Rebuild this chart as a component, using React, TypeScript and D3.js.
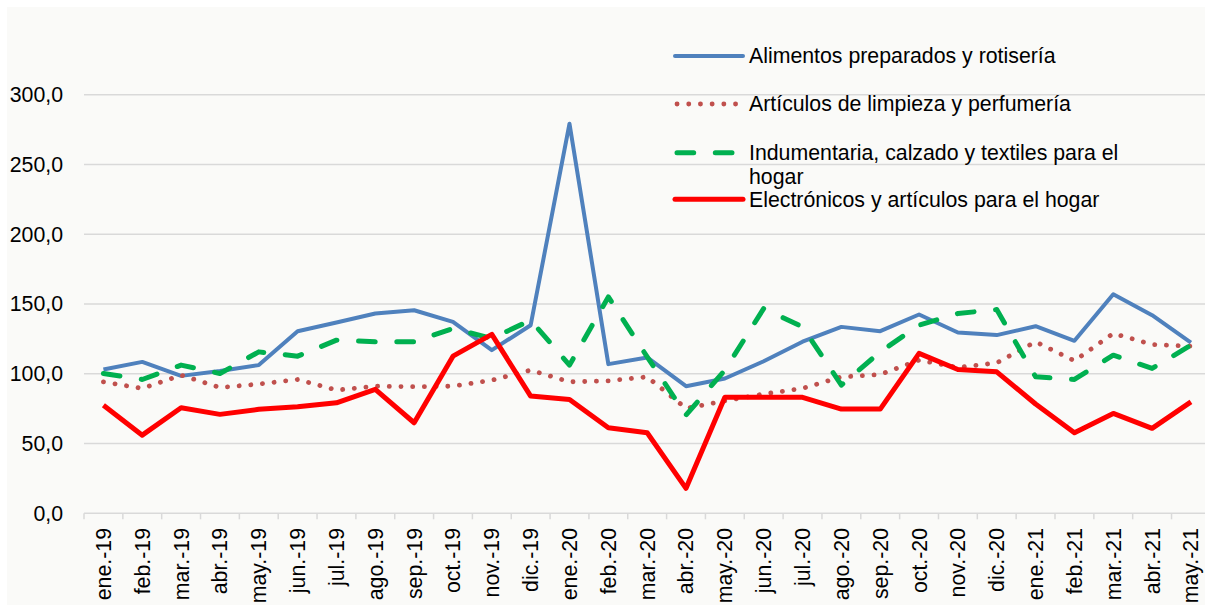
import React from "react";
import * as d3 from "d3";

const categories = ["ene.-19","feb.-19","mar.-19","abr.-19","may.-19","jun.-19","jul.-19","ago.-19","sep.-19","oct.-19","nov.-19","dic.-19","ene.-20","feb.-20","mar.-20","abr.-20","may.-20","jun.-20","jul.-20","ago.-20","sep.-20","oct.-20","nov.-20","dic.-20","ene.-21","feb.-21","mar.-21","abr.-21","may.-21"];

const alimentos = [103.1,108.5,98.5,102.0,106.2,130.5,136.7,143.2,145.5,137.2,116.9,134.8,279.2,106.9,111.7,91.1,96.6,109.0,123.0,133.6,130.5,142.5,129.6,127.7,134.1,123.6,157.0,142.0,122.4];
const limpieza = [94.2,89.5,99.0,90.2,92.6,95.9,88.3,91.1,90.7,91.1,95.4,102.6,94.2,94.9,97.8,75.2,80.6,85.5,89.5,97.8,99.5,109.8,104.5,107.8,122.9,109.3,128.9,121.0,119.8];
const indumentaria = [100.2,95.9,106.2,100.2,115.7,112.6,124.1,122.9,122.9,132.5,125.3,138.4,106.2,155.1,112.1,70.4,102.6,146.8,133.6,91.9,115.7,134.8,143.2,146.0,97.8,95.9,113.3,103.8,120.5];
const electronicos = [77.5,56.0,75.6,70.9,74.5,76.3,79.2,88.8,64.9,112.6,128.2,84.0,81.6,61.3,57.7,17.9,83.1,83.1,83.1,74.7,74.7,114.6,103.1,101.4,78.3,57.7,71.6,60.9,79.9];

const yTicks = [0, 50, 100, 150, 200, 250, 300];

const seriesNames = [
  ["Alimentos preparados y rotisería"],
  ["Artículos de limpieza y perfumería"],
  ["Indumentaria, calzado y textiles para el", "hogar"],
  ["Electrónicos y artículos para el hogar"],
];

const FONT = "'Liberation Sans', Arial, Helvetica, sans-serif";
const FS = 21.3;

export default function App() {
  const W = 1205, H = 605;
  const x = d3.scaleBand<string>().domain(categories).range([84, 84 + 29 * 38.84]).padding(0);
  const y = d3.scaleLinear().domain([0, 300]).range([513.3, 94.7]);
  const cx = (i: number) => (x(categories[i]) as number) + x.bandwidth() / 2;
  const line = d3.line<number>().x((_, i) => cx(i)).y((v) => y(v));

  const styles = [
    { data: alimentos, color: "#4f81bd", width: 4, dash: undefined as string | undefined, cap: "butt" },
    { data: limpieza, color: "#c0504d", width: 4.8, dash: "0.1 11.6", cap: "round" },
    { data: indumentaria, color: "#00b050", width: 5, dash: "16.7 21.6", cap: "round" },
    { data: electronicos, color: "#ff0000", width: 5, dash: undefined, cap: "butt" },
  ];

  const legendY = [56, 104, 152.7, 199.3];

  const boundaries = d3.range(0, 30).map((i) => 84 + i * x.bandwidth());

  return (
    <svg width={W} height={H} style={{ position: "absolute", left: 0, top: 0 }} fontFamily={FONT}>
      <rect x={0} y={0} width={W} height={H} fill="#ffffff" />
      <rect x={7} y={7} width={W - 7} height={H - 7} fill="#fafaf8" />
      {yTicks.map((t) => (
        <g key={t}>
          <line x1={84} x2={W} y1={y(t)} y2={y(t)} stroke="#d9d9d9" strokeWidth={1.5} />
          <text x={63} y={y(t)} dy="0.35em" textAnchor="end" fontSize={FS} fill="#000">
            {d3.format(".1f")(t).replace(".", ",")}
          </text>
        </g>
      ))}
      {boundaries.map((b, i) => (
        <line key={i} x1={b} x2={b} y1={y(0)} y2={y(0) + 6} stroke="#d9d9d9" strokeWidth={1.5} />
      ))}
      {categories.map((c, i) => (
        <text key={c} transform={`translate(${cx(i)},528) rotate(-90)`} dy="0.35em" textAnchor="end" fontSize={FS} fill="#000">
          {c}
        </text>
      ))}
      {styles.map((s, k) => (
        <path key={k} d={line(s.data) as string} fill="none" stroke={s.color} strokeWidth={s.width}
          strokeDasharray={s.dash} strokeLinecap={s.cap as any} strokeLinejoin="round" />
      ))}
      {styles.map((s, k) => (
        <g key={"lg" + k}>
          <line x1={k === 1 || k === 2 ? 677 : 675} x2={743} y1={legendY[k]} y2={legendY[k]} stroke={s.color}
            strokeWidth={s.width} strokeDasharray={s.dash} strokeLinecap={k === 0 || k === 3 ? "round" : (s.cap as any)} />
          {seriesNames[k].map((t, j) => (
            <text key={j} x={749} y={legendY[k] + j * 24} dy="0.35em" fontSize={FS} fill="#000">{t}</text>
          ))}
        </g>
      ))}
    </svg>
  );
}
